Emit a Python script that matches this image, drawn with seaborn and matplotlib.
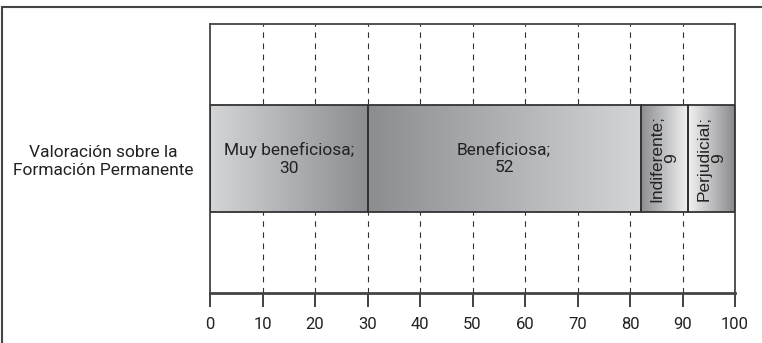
import numpy as np
import pandas as pd
import matplotlib
matplotlib.use("Agg")
import matplotlib.pyplot as plt
from matplotlib.colors import LinearSegmentedColormap
from matplotlib.patches import Rectangle
import seaborn as sns

# Data
question = "Valoración sobre la\nFormación Permanente"
segments = ["Muy beneficiosa", "Beneficiosa", "Indiferente", "Perjudicial"]
values = [30, 52, 9, 9]
xticks = [0, 10, 20, 30, 40, 50, 60, 70, 80, 90, 100]

# Gradient end colours per segment (left -> right)
grad_left = ["#d4d5d7", "#8c8d91", "#8c8d91", "#f2f2f2"]
grad_right = ["#8c8d91", "#d4d5d7", "#f4f4f4", "#87888c"]

sns.set_theme(style="white")
narrow = ["Roboto", "DejaVu Sans"]
plt.rcParams["font.family"] = narrow

fig = plt.figure(figsize=(7.62, 3.43), dpi=100)
ax = fig.add_axes([210 / 762, 1 - 293 / 343, (735 - 210) / 762, (293 - 24) / 343])

df = pd.DataFrame({"cat": [question] * len(values), "seg": segments, "val": values})
lefts = np.concatenate([[0], np.cumsum(values)[:-1]])

patches = []
for i in range(len(df)):
    n_before = len(ax.patches)
    sns.barplot(data=df.iloc[[i]], x="val", y="cat", orient="h", ax=ax,
                left=lefts[i], width=0.4, color="#999999",
                edgecolor="#333333", linewidth=1.3, zorder=3)
    p = ax.patches[n_before]
    p.set_facecolor("none")
    patches.append(p)

# Fill each bar with a horizontal gradient clipped to its outline
for p, cl, cr in zip(patches, grad_left, grad_right):
    x0, y0 = p.get_x(), p.get_y()
    w, h = p.get_width(), p.get_height()
    cmap = LinearSegmentedColormap.from_list("g", [cl, cr])
    grad = np.linspace(0, 1, 256).reshape(1, -1)
    im = ax.imshow(grad, cmap=cmap, aspect="auto", extent=(x0, x0 + w, y0 + h, y0),
                   zorder=2, interpolation="bilinear")
    im.set_clip_path(p)

# Segment labels
for seg, v, l in zip(segments, values, lefts):
    cx = l + v / 2
    if v >= 20:
        ax.text(cx, 0, f"{seg};\n{v}", ha="center", va="center", fontsize=12.5,
                color="#222222", zorder=4, linespacing=1.25, family=narrow)
    else:
        ax.text(cx, 0, f"{seg};\n{v}", ha="center", va="center", fontsize=12.5,
                rotation=90, color="#222222", zorder=4, linespacing=0.95,
                family=["Liberation Sans", "DejaVu Sans"], multialignment="center")

ax.set_xlim(0, 100)
ax.set_ylim(0.5, -0.5)
ax.set_xticks(xticks)
ax.set_xticklabels([str(t) for t in xticks], fontsize=12, color="#222222")
ax.set_xlabel("")
ax.set_ylabel("")
ax.tick_params(axis="x", direction="out", length=10, width=1.3, color="#333333", pad=7,
               bottom=True)
ax.tick_params(axis="y", length=0, pad=12, labelsize=12.5, labelcolor="#222222")
for lbl in ax.get_yticklabels():
    lbl.set_multialignment("center")
    lbl.set_linespacing(1.25)

# Dashed vertical grid
for t in xticks[1:-1]:
    ax.axvline(t, color="#333333", linewidth=0.8, linestyle=(0, (5, 5)), zorder=1)

for side in ["top", "left", "right"]:
    ax.spines[side].set_color("#444444")
    ax.spines[side].set_linewidth(1.3)
ax.spines["bottom"].set_color("#444444")
ax.spines["bottom"].set_linewidth(2.0)

# Outer frame
fig.patches.append(Rectangle((2 / 762, -0.05), 1.1, 1 - 7 / 343 + 0.05,
                             transform=fig.transFigure, fill=False,
                             edgecolor="#444444", linewidth=1.5))

fig.savefig("out.png", dpi=100)
